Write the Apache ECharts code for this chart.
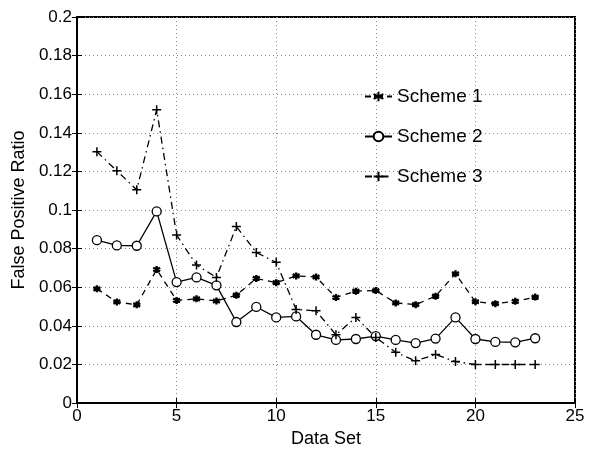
<!DOCTYPE html>
<html>
<head>
<meta charset="utf-8">
<script src="https://cdn.jsdelivr.net/npm/echarts@6/dist/echarts.min.js"></script>
<style>html,body{margin:0;padding:0;background:#fff;}#c{width:598px;height:453px;}</style>
</head>
<body>
<div id="c"></div>
<script>
const dataSets = [1,2,3,4,5,6,7,8,9,10,11,12,13,14,15,16,17,18,19,20,21,22,23];
const scheme1 = [0.0592,0.0524,0.0509,0.0692,0.0532,0.0540,0.0529,0.0559,0.0646,0.0624,0.0659,0.0653,0.0547,0.0580,0.0583,0.0519,0.0510,0.0554,0.0670,0.0525,0.0515,0.0527,0.0549];
const scheme2 = [0.0844,0.0817,0.0815,0.0993,0.0627,0.0651,0.0610,0.0420,0.0498,0.0444,0.0449,0.0354,0.0327,0.0332,0.0347,0.0327,0.0311,0.0334,0.0444,0.0332,0.0317,0.0315,0.0336];
const scheme3 = [0.1302,0.1203,0.1105,0.1520,0.0871,0.0715,0.0651,0.0915,0.0780,0.0729,0.0485,0.0478,0.0354,0.0444,0.0340,0.0263,0.0219,0.0252,0.0215,0.0200,0.0200,0.0200,0.0200];
const seriesNames = ['Scheme 1','Scheme 2','Scheme 3'];

const FONT = 'Liberation Sans';
const starPath = 'path://M5,0L5,10M0.7,2.5L9.3,7.5M0.7,7.5L9.3,2.5M1,5L9,5';
const plusPath = 'path://M5,0L5,10M0,5L10,5';

function pts(arr){ return arr.map((v,i)=>[dataSets[i], v]); }

const chart = echarts.init(document.getElementById('c'), null, {renderer:'canvas'});
const axisLabel = {color:'#000', fontFamily: FONT, fontSize: 17};
const gridLine = {show: true, lineStyle: {type: [1,3], color: '#888', width: 1}};
chart.setOption({
  animation: false,
  backgroundColor: '#fff',
  grid: {left: 77, right: 23, top: 17, bottom: 43, show: true, borderColor: '#000', borderWidth: 2, backgroundColor: 'transparent'},
  legend: {
    orient: 'vertical', left: 359, top: 82, itemGap: 21, itemWidth: 27, itemHeight: 12,
    textStyle: {fontFamily: FONT, fontSize: 19, color: '#000'},
    data: seriesNames
  },
  xAxis: [{
    type: 'value', min: 0, max: 25, interval: 5,
    name: 'Data Set', nameLocation: 'middle', nameGap: 23,
    nameTextStyle: {fontFamily: FONT, fontSize: 18, color: '#000'},
    axisLine: {show: true, lineStyle: {color: '#000', width: 2}},
    axisTick: {inside: true, length: 5, lineStyle: {color: '#000'}},
    axisLabel: Object.assign({margin: 5}, axisLabel),
    splitLine: gridLine
  },{
    type: 'value', min: 0, max: 25, interval: 5, position: 'top',
    axisLine: {show: true, lineStyle: {color: '#000', width: 2}},
    axisTick: {inside: true, length: 5, lineStyle: {color: '#000'}},
    axisLabel: {show: false}, splitLine: {show: false}
  }],
  yAxis: [{
    type: 'value', min: 0, max: 0.2, interval: 0.02,
    name: 'False Positive Ratio', nameLocation: 'middle', nameGap: 47,
    nameTextStyle: {fontFamily: FONT, fontSize: 18, color: '#000'},
    axisLine: {show: true, lineStyle: {color: '#000', width: 2}},
    axisTick: {inside: true, length: 5, lineStyle: {color: '#000'}},
    axisLabel: Object.assign({margin: 5, formatter: v => String(+v.toFixed(2))}, axisLabel),
    splitLine: gridLine
  },{
    type: 'value', min: 0, max: 0.2, interval: 0.02, position: 'right',
    axisLine: {show: true, lineStyle: {color: '#000', width: 2}},
    axisTick: {inside: true, length: 5, lineStyle: {color: '#000'}},
    axisLabel: {show: false}, splitLine: {show: false}
  }],
  series: [
    {name: seriesNames[0], type: 'line', data: pts(scheme1), symbol: starPath, symbolSize: 7,
     lineStyle: {color: '#000', width: 1.3, type: [6,5]},
     itemStyle: {color: '#000', borderColor: '#000', borderWidth: 2.4}},
    {name: seriesNames[1], type: 'line', data: pts(scheme2), symbol: 'circle', symbolSize: 9,
     lineStyle: {color: '#000', width: 1.3, type: 'solid'},
     itemStyle: {color: '#fff', borderColor: '#000', borderWidth: 1.3}},
    {name: seriesNames[2], type: 'line', data: pts(scheme3), symbol: plusPath, symbolSize: 9,
     lineStyle: {color: '#000', width: 1.3, type: [7,4,1.5,4]},
     itemStyle: {color: '#000', borderColor: '#000', borderWidth: 1.5}}
  ]
});
</script>
</body>
</html>
